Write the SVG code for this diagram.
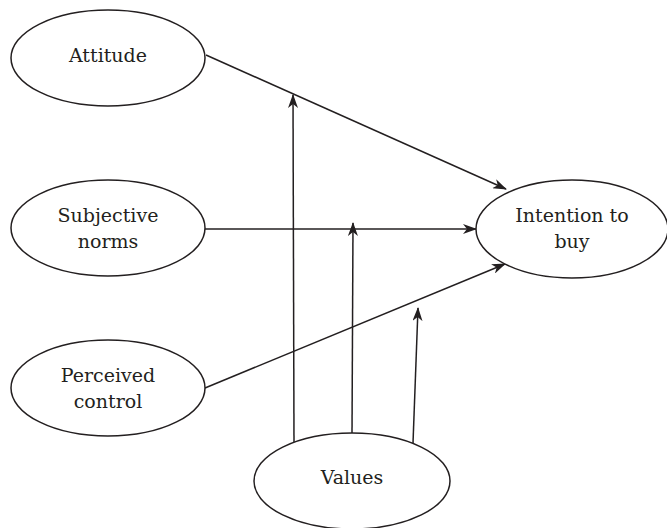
<svg xmlns="http://www.w3.org/2000/svg" width="667" height="528" viewBox="0 0 667 528">
<style>
.n ellipse{fill:#fff;stroke:#231f20;stroke-width:1.5}
.n text{font-family:'DejaVu Serif','Liberation Serif',serif;font-size:19px;fill:#231f20;text-anchor:middle}
#connectors line{stroke:#231f20;stroke-width:1.5;fill:none;marker-end:url(#ah)}
</style>
<defs>
<marker id="ah" viewBox="0 0 14 10" refX="13" refY="5" markerWidth="14" markerHeight="10" markerUnits="userSpaceOnUse" orient="auto">
<path d="M0,0 L14,5 L0,10 L4,5 z" fill="#231f20"/>
</marker>
</defs>
<g id="connectors">
<line x1="206" y1="55" x2="506" y2="189"/>
<line x1="205" y1="229" x2="476" y2="229"/>
<line x1="205" y1="388" x2="505" y2="264"/>
<line x1="294" y1="442" x2="293" y2="95"/>
<line x1="352" y1="436" x2="353" y2="223"/>
<line x1="413" y1="443" x2="418" y2="308"/>
</g>
<g id="attitude" class="n">
<ellipse cx="108" cy="58" rx="97" ry="48"/>
<text x="108" y="62">Attitude</text>
</g>
<g id="subjective" class="n">
<ellipse cx="108" cy="228" rx="97" ry="48"/>
<text x="108" y="222">Subjective</text>
<text x="108" y="248">norms</text>
</g>
<g id="perceived" class="n">
<ellipse cx="108" cy="388" rx="97" ry="48"/>
<text x="108" y="382">Perceived</text>
<text x="108" y="408">control</text>
</g>
<g id="intention" class="n">
<ellipse cx="572" cy="229" rx="96" ry="49"/>
<text x="572" y="222">Intention to</text>
<text x="572" y="248">buy</text>
</g>
<g id="values" class="n">
<ellipse cx="352" cy="481" rx="98" ry="48"/>
<text x="352" y="484">Values</text>
</g>
</svg>
